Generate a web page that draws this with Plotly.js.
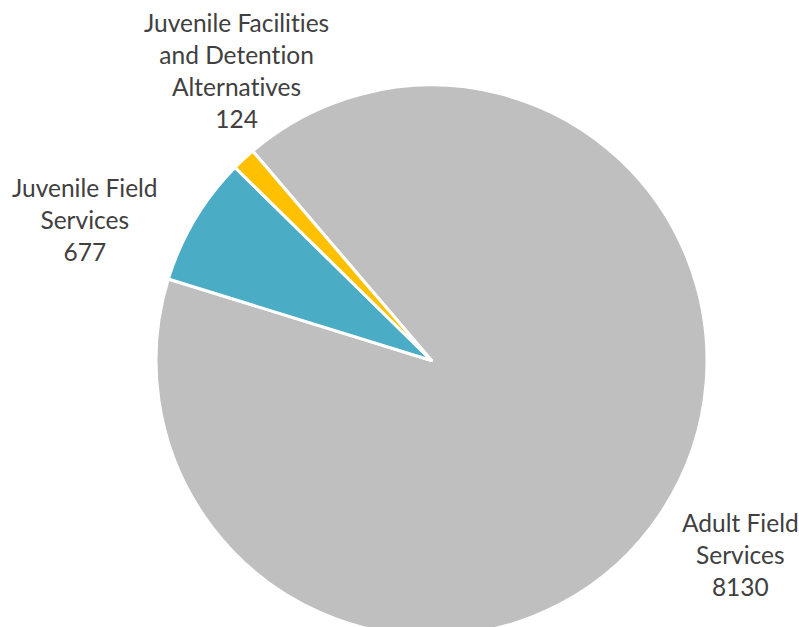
<!DOCTYPE html>
<html>
<head>
<meta charset="utf-8">
<script src="https://cdn.plot.ly/plotly-3.0.1.min.js"></script>
<style>
html,body{margin:0;padding:0;background:#fff;overflow:hidden;}
#chart{width:799px;height:636px;}
svg text, .annotation-text{font-variant-ligatures:none !important;font-feature-settings:"liga" 0,"clig" 0,"dlig" 0 !important;}
</style>
</head>
<body>
<div id="chart"></div>
<script>
const categories = ["Adult Field Services", "Juvenile Field Services", "Juvenile Facilities and Detention Alternatives"];
const labelLines = [["Adult Field", "Services"], ["Juvenile Field", "Services"], ["Juvenile Facilities", "and Detention", "Alternatives"]];
const values = [8130, 677, 124];
const colors = ["#BFBFBF", "#4BACC6", "#FFC000"];

const W = 799, H = 636;
const margin = {l: 156, r: 92, t: 85, b: 0};
const pw = W - margin.l - margin.r, ph = H - margin.t - margin.b;
// label anchor positions in pixels (centre x, top y)
const labelPos = [[740, 506], [85, 171], [236, 6]];

const annotations = categories.map((c, i) => ({
  xref: 'paper', yref: 'paper',
  x: (labelPos[i][0] - margin.l) / pw,
  y: (H - margin.b - labelPos[i][1]) / ph,
  xanchor: 'center', yanchor: 'top',
  showarrow: false, align: 'center',
  text: labelLines[i].concat([String(values[i])]).join('<br>'),
  font: {family: 'Lato, Carlito, sans-serif', size: 24.5, color: '#404040'}
}));

Plotly.newPlot('chart', [{
  type: 'pie',
  labels: categories,
  values: values,
  sort: false,
  direction: 'clockwise',
  rotation: -40.5,
  textinfo: 'none',
  hoverinfo: 'label+value',
  marker: {colors: colors, line: {color: '#FFFFFF', width: 3}},
  showlegend: false
}], {
  width: W, height: H,
  margin: margin,
  paper_bgcolor: '#FFFFFF',
  plot_bgcolor: '#FFFFFF',
  showlegend: false,
  annotations: annotations
}, {displayModeBar: false, staticPlot: true});
</script>
</body>
</html>
